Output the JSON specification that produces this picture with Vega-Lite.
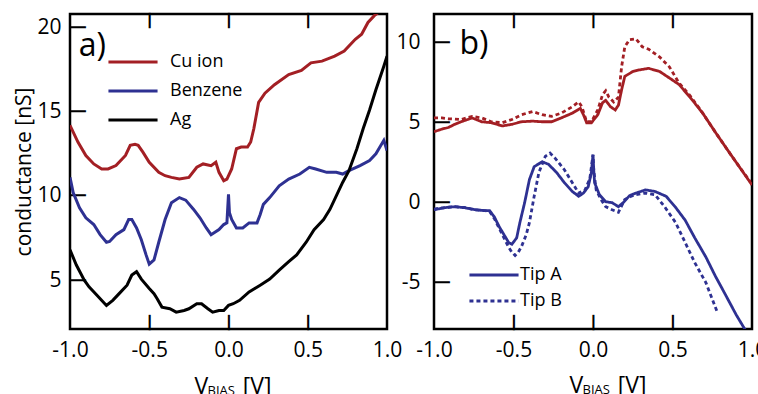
{
  "$schema": "https://vega.github.io/schema/vega-lite/v6.json",
  "padding": {"left": 12, "top": 12, "right": 8, "bottom": 67},
  "bounds": "flush",
  "spacing": 47,
  "config": {
    "font": "Open Sans",
    "view": {"stroke": "black", "strokeWidth": 2.5},
    "axis": {"grid": false, "domain": false, "ticks": false, "labelFlush": false, "labelOverlap": false, "labelFontSize": 21, "labelColor": "black", "titleColor": "black", "titleFontWeight": "normal"},
    "legend": {"labelColor": "black", "labelFontSize": 18, "padding": 0}
  },
  "resolve": {"scale": {"color": "independent", "strokeDash": "independent"}, "legend": {"color": "independent", "strokeDash": "independent"}},
  "hconcat": [
    {
      "width": 317,
      "height": 315,
      "data": {"values": [
        {"v": -1.0, "g": 14.19, "s": "Cu ion"}, {"v": -0.95, "g": 13.2, "s": "Cu ion"}, {"v": -0.9, "g": 12.4, "s": "Cu ion"}, {"v": -0.85, "g": 11.9, "s": "Cu ion"}, {"v": -0.8, "g": 11.6, "s": "Cu ion"}, {"v": -0.76, "g": 11.6, "s": "Cu ion"}, {"v": -0.71, "g": 11.8, "s": "Cu ion"}, {"v": -0.65, "g": 12.4, "s": "Cu ion"}, {"v": -0.62, "g": 13.0, "s": "Cu ion"}, {"v": -0.59, "g": 13.06, "s": "Cu ion"}, {"v": -0.57, "g": 13.0, "s": "Cu ion"}, {"v": -0.54, "g": 12.6, "s": "Cu ion"}, {"v": -0.5, "g": 12.0, "s": "Cu ion"}, {"v": -0.44, "g": 11.4, "s": "Cu ion"}, {"v": -0.4, "g": 11.2, "s": "Cu ion"}, {"v": -0.36, "g": 11.1, "s": "Cu ion"}, {"v": -0.31, "g": 11.0, "s": "Cu ion"}, {"v": -0.25, "g": 11.1, "s": "Cu ion"}, {"v": -0.2, "g": 11.7, "s": "Cu ion"}, {"v": -0.16, "g": 11.9, "s": "Cu ion"}, {"v": -0.11, "g": 11.8, "s": "Cu ion"}, {"v": -0.08, "g": 12.0, "s": "Cu ion"}, {"v": -0.06, "g": 11.4, "s": "Cu ion"}, {"v": -0.03, "g": 10.9, "s": "Cu ion"}, {"v": -0.01, "g": 11.0, "s": "Cu ion"}, {"v": 0.02, "g": 11.6, "s": "Cu ion"}, {"v": 0.05, "g": 12.8, "s": "Cu ion"}, {"v": 0.08, "g": 12.9, "s": "Cu ion"}, {"v": 0.12, "g": 12.9, "s": "Cu ion"}, {"v": 0.14, "g": 13.2, "s": "Cu ion"}, {"v": 0.16, "g": 14.0, "s": "Cu ion"}, {"v": 0.19, "g": 15.55, "s": "Cu ion"}, {"v": 0.23, "g": 16.1, "s": "Cu ion"}, {"v": 0.29, "g": 16.6, "s": "Cu ion"}, {"v": 0.38, "g": 17.2, "s": "Cu ion"}, {"v": 0.46, "g": 17.45, "s": "Cu ion"}, {"v": 0.52, "g": 17.9, "s": "Cu ion"}, {"v": 0.59, "g": 18.0, "s": "Cu ion"}, {"v": 0.67, "g": 18.3, "s": "Cu ion"}, {"v": 0.73, "g": 18.6, "s": "Cu ion"}, {"v": 0.8, "g": 19.3, "s": "Cu ion"}, {"v": 0.84, "g": 19.6, "s": "Cu ion"}, {"v": 0.88, "g": 20.3, "s": "Cu ion"}, {"v": 0.92, "g": 20.7, "s": "Cu ion"}, {"v": 1.0, "g": 21.3, "s": "Cu ion"},
        {"v": -1.0, "g": 11.1, "s": "Benzene"}, {"v": -0.98, "g": 10.2, "s": "Benzene"}, {"v": -0.94, "g": 9.3, "s": "Benzene"}, {"v": -0.9, "g": 8.7, "s": "Benzene"}, {"v": -0.85, "g": 8.3, "s": "Benzene"}, {"v": -0.81, "g": 7.7, "s": "Benzene"}, {"v": -0.77, "g": 7.25, "s": "Benzene"}, {"v": -0.75, "g": 7.3, "s": "Benzene"}, {"v": -0.71, "g": 7.7, "s": "Benzene"}, {"v": -0.66, "g": 8.0, "s": "Benzene"}, {"v": -0.63, "g": 8.6, "s": "Benzene"}, {"v": -0.61, "g": 8.6, "s": "Benzene"}, {"v": -0.58, "g": 8.1, "s": "Benzene"}, {"v": -0.55, "g": 7.4, "s": "Benzene"}, {"v": -0.52, "g": 6.5, "s": "Benzene"}, {"v": -0.5, "g": 5.95, "s": "Benzene"}, {"v": -0.47, "g": 6.2, "s": "Benzene"}, {"v": -0.44, "g": 7.25, "s": "Benzene"}, {"v": -0.4, "g": 8.6, "s": "Benzene"}, {"v": -0.36, "g": 9.6, "s": "Benzene"}, {"v": -0.31, "g": 9.9, "s": "Benzene"}, {"v": -0.27, "g": 9.75, "s": "Benzene"}, {"v": -0.22, "g": 9.2, "s": "Benzene"}, {"v": -0.18, "g": 8.7, "s": "Benzene"}, {"v": -0.14, "g": 8.1, "s": "Benzene"}, {"v": -0.11, "g": 7.7, "s": "Benzene"}, {"v": -0.06, "g": 8.0, "s": "Benzene"}, {"v": -0.03, "g": 8.3, "s": "Benzene"}, {"v": -0.01, "g": 8.4, "s": "Benzene"}, {"v": 0.0, "g": 10.1, "s": "Benzene"}, {"v": 0.006, "g": 9.0, "s": "Benzene"}, {"v": 0.02, "g": 8.6, "s": "Benzene"}, {"v": 0.05, "g": 8.1, "s": "Benzene"}, {"v": 0.09, "g": 8.1, "s": "Benzene"}, {"v": 0.13, "g": 8.4, "s": "Benzene"}, {"v": 0.18, "g": 8.4, "s": "Benzene"}, {"v": 0.2, "g": 8.9, "s": "Benzene"}, {"v": 0.22, "g": 9.5, "s": "Benzene"}, {"v": 0.26, "g": 9.9, "s": "Benzene"}, {"v": 0.32, "g": 10.6, "s": "Benzene"}, {"v": 0.38, "g": 11.0, "s": "Benzene"}, {"v": 0.45, "g": 11.3, "s": "Benzene"}, {"v": 0.51, "g": 11.7, "s": "Benzene"}, {"v": 0.55, "g": 11.6, "s": "Benzene"}, {"v": 0.62, "g": 11.4, "s": "Benzene"}, {"v": 0.68, "g": 11.4, "s": "Benzene"}, {"v": 0.72, "g": 11.3, "s": "Benzene"}, {"v": 0.76, "g": 11.5, "s": "Benzene"}, {"v": 0.83, "g": 11.8, "s": "Benzene"}, {"v": 0.89, "g": 12.1, "s": "Benzene"}, {"v": 0.93, "g": 12.5, "s": "Benzene"}, {"v": 0.98, "g": 13.3, "s": "Benzene"}, {"v": 1.0, "g": 12.7, "s": "Benzene"},
        {"v": -1.0, "g": 6.8, "s": "Ag"}, {"v": -0.96, "g": 5.9, "s": "Ag"}, {"v": -0.91, "g": 5.0, "s": "Ag"}, {"v": -0.88, "g": 4.6, "s": "Ag"}, {"v": -0.83, "g": 4.1, "s": "Ag"}, {"v": -0.77, "g": 3.5, "s": "Ag"}, {"v": -0.73, "g": 3.8, "s": "Ag"}, {"v": -0.69, "g": 4.2, "s": "Ag"}, {"v": -0.64, "g": 4.7, "s": "Ag"}, {"v": -0.61, "g": 5.3, "s": "Ag"}, {"v": -0.58, "g": 5.5, "s": "Ag"}, {"v": -0.55, "g": 5.06, "s": "Ag"}, {"v": -0.5, "g": 4.5, "s": "Ag"}, {"v": -0.47, "g": 4.2, "s": "Ag"}, {"v": -0.45, "g": 3.9, "s": "Ag"}, {"v": -0.42, "g": 3.4, "s": "Ag"}, {"v": -0.37, "g": 3.3, "s": "Ag"}, {"v": -0.33, "g": 3.1, "s": "Ag"}, {"v": -0.28, "g": 3.2, "s": "Ag"}, {"v": -0.25, "g": 3.3, "s": "Ag"}, {"v": -0.2, "g": 3.6, "s": "Ag"}, {"v": -0.17, "g": 3.6, "s": "Ag"}, {"v": -0.13, "g": 3.3, "s": "Ag"}, {"v": -0.1, "g": 3.1, "s": "Ag"}, {"v": -0.06, "g": 3.2, "s": "Ag"}, {"v": -0.03, "g": 3.2, "s": "Ag"}, {"v": 0.0, "g": 3.5, "s": "Ag"}, {"v": 0.03, "g": 3.6, "s": "Ag"}, {"v": 0.07, "g": 3.8, "s": "Ag"}, {"v": 0.13, "g": 4.3, "s": "Ag"}, {"v": 0.2, "g": 4.7, "s": "Ag"}, {"v": 0.26, "g": 5.06, "s": "Ag"}, {"v": 0.32, "g": 5.6, "s": "Ag"}, {"v": 0.38, "g": 6.1, "s": "Ag"}, {"v": 0.43, "g": 6.5, "s": "Ag"}, {"v": 0.49, "g": 7.25, "s": "Ag"}, {"v": 0.54, "g": 8.0, "s": "Ag"}, {"v": 0.6, "g": 8.6, "s": "Ag"}, {"v": 0.64, "g": 9.2, "s": "Ag"}, {"v": 0.68, "g": 10.0, "s": "Ag"}, {"v": 0.72, "g": 10.8, "s": "Ag"}, {"v": 0.76, "g": 11.5, "s": "Ag"}, {"v": 0.81, "g": 12.8, "s": "Ag"}, {"v": 0.85, "g": 14.0, "s": "Ag"}, {"v": 0.89, "g": 15.1, "s": "Ag"}, {"v": 0.93, "g": 16.3, "s": "Ag"}, {"v": 0.98, "g": 17.7, "s": "Ag"}, {"v": 1.0, "g": 18.3, "s": "Ag"}
      ]},
      "layer": [
        {
          "transform": [{"filter": "datum.s !== 'Ag'"}],
          "mark": {"type": "line", "strokeWidth": 3, "clip": true},
          "encoding": {
            "x": {"field": "v", "type": "quantitative", "scale": {"domain": [-1, 1], "nice": false, "zero": false},
                  "axis": {"orient": "bottom", "values": [-1, -0.5, 0, 0.5, 1], "labelPadding": 10, "labelExpr": "replace(format(datum.value, '.1f'), '\u2212', '-')", "title": "V\u2003\u2002[V]", "titleFontSize": 23, "titleAnchor": "start", "titleAlign": "left", "titleBaseline": "alphabetic", "titleX": 124, "titleY": 64}},
            "y": {"field": "g", "type": "quantitative", "scale": {"domain": [2.1, 20.8], "nice": false, "zero": false},
                  "axis": {"orient": "left", "values": [5, 10, 15, 20], "labelPadding": 9, "title": "conductance [nS]", "titleFontSize": 21, "titlePadding": 2}},
            "color": {"field": "s", "type": "nominal", "scale": {"domain": ["Cu ion", "Benzene", "Ag"], "range": ["#a31f24", "#2e3192", "#000000"]},
                      "legend": {"orient": "none", "legendX": 53, "legendY": 38, "title": null, "symbolType": "M-3,0H3", "symbolSize": 268, "symbolStrokeWidth": 3, "labelOffset": 27, "rowPadding": 10}}
          }
        },
        {
          "transform": [{"filter": "datum.s === 'Ag'"}],
          "mark": {"type": "line", "strokeWidth": 3, "clip": true},
          "encoding": {
            "x": {"field": "v", "type": "quantitative", "scale": {"domain": [-1, 1], "nice": false, "zero": false},
                  "axis": {"orient": "bottom", "values": [-0.5, 0, 0.5], "labelExpr": "'\u2503'", "labelFont": "DejaVu Sans", "labelFontSize": 13, "labelBaseline": "bottom", "labelAlign": "center", "labelPadding": 0, "title": "BIAS", "titleFontSize": 13, "titleAnchor": "start", "titleAlign": "left", "titleBaseline": "alphabetic", "titleX": 137, "titleY": 65}},
            "y": {"field": "g", "type": "quantitative",
                  "axis": {"orient": "left", "values": [5, 10, 15, 20], "labelExpr": "'\u2500'", "labelFont": "DejaVu Sans", "labelFontSize": 25, "labelAlign": "left", "labelBaseline": "middle", "labelPadding": 0, "title": null}},
            "color": {"field": "s", "type": "nominal",
                      "legend": {"orient": "none", "legendX": 53, "legendY": 38, "title": null, "symbolType": "M-3,0H3", "symbolSize": 268, "symbolStrokeWidth": 3, "labelOffset": 27, "rowPadding": 10}}
          }
        },
        {
          "data": {"values": [{"v": -0.945, "g": 18.3, "t": "a)"}]},
          "mark": {"type": "text", "fontSize": 32, "align": "left", "baseline": "alphabetic", "color": "black"},
          "encoding": {
            "x": {"field": "v", "type": "quantitative", "axis": {"orient": "top", "values": [-0.5, 0, 0.5], "labelExpr": "'\u2503'", "labelFont": "DejaVu Sans", "labelFontSize": 13, "labelBaseline": "top", "labelAlign": "center", "labelPadding": 0, "title": null}},
            "y": {"field": "g", "type": "quantitative", "axis": {"orient": "left", "labels": false, "title": null}},
            "text": {"field": "t"}
          }
        }
      ],
      "resolve": {"axis": {"x": "independent", "y": "independent"}}
    },
    {
      "width": 318,
      "height": 315,
      "data": {"values": [
        {"v": -1.0, "g": 4.44, "mol": "Cu", "tip": "Tip A"}, {"v": -0.95, "g": 4.6, "mol": "Cu", "tip": "Tip A"}, {"v": -0.91, "g": 4.7, "mol": "Cu", "tip": "Tip A"}, {"v": -0.87, "g": 4.9, "mol": "Cu", "tip": "Tip A"}, {"v": -0.83, "g": 5.06, "mol": "Cu", "tip": "Tip A"}, {"v": -0.76, "g": 5.3, "mol": "Cu", "tip": "Tip A"}, {"v": -0.7, "g": 5.06, "mol": "Cu", "tip": "Tip A"}, {"v": -0.64, "g": 5.0, "mol": "Cu", "tip": "Tip A"}, {"v": -0.57, "g": 4.8, "mol": "Cu", "tip": "Tip A"}, {"v": -0.51, "g": 4.9, "mol": "Cu", "tip": "Tip A"}, {"v": -0.45, "g": 5.06, "mol": "Cu", "tip": "Tip A"}, {"v": -0.38, "g": 5.1, "mol": "Cu", "tip": "Tip A"}, {"v": -0.32, "g": 5.06, "mol": "Cu", "tip": "Tip A"}, {"v": -0.26, "g": 5.06, "mol": "Cu", "tip": "Tip A"}, {"v": -0.2, "g": 5.3, "mol": "Cu", "tip": "Tip A"}, {"v": -0.13, "g": 5.6, "mol": "Cu", "tip": "Tip A"}, {"v": -0.08, "g": 5.9, "mol": "Cu", "tip": "Tip A"}, {"v": -0.06, "g": 5.5, "mol": "Cu", "tip": "Tip A"}, {"v": -0.04, "g": 5.0, "mol": "Cu", "tip": "Tip A"}, {"v": -0.01, "g": 5.0, "mol": "Cu", "tip": "Tip A"}, {"v": 0.03, "g": 5.5, "mol": "Cu", "tip": "Tip A"}, {"v": 0.06, "g": 6.25, "mol": "Cu", "tip": "Tip A"}, {"v": 0.08, "g": 6.4, "mol": "Cu", "tip": "Tip A"}, {"v": 0.11, "g": 6.0, "mol": "Cu", "tip": "Tip A"}, {"v": 0.14, "g": 5.8, "mol": "Cu", "tip": "Tip A"}, {"v": 0.16, "g": 6.1, "mol": "Cu", "tip": "Tip A"}, {"v": 0.18, "g": 7.06, "mol": "Cu", "tip": "Tip A"}, {"v": 0.2, "g": 7.9, "mol": "Cu", "tip": "Tip A"}, {"v": 0.25, "g": 8.2, "mol": "Cu", "tip": "Tip A"}, {"v": 0.29, "g": 8.3, "mol": "Cu", "tip": "Tip A"}, {"v": 0.35, "g": 8.4, "mol": "Cu", "tip": "Tip A"}, {"v": 0.42, "g": 8.2, "mol": "Cu", "tip": "Tip A"}, {"v": 0.48, "g": 7.8, "mol": "Cu", "tip": "Tip A"}, {"v": 0.54, "g": 7.4, "mol": "Cu", "tip": "Tip A"}, {"v": 0.61, "g": 6.6, "mol": "Cu", "tip": "Tip A"}, {"v": 0.69, "g": 5.6, "mol": "Cu", "tip": "Tip A"}, {"v": 0.77, "g": 4.4, "mol": "Cu", "tip": "Tip A"}, {"v": 0.86, "g": 3.1, "mol": "Cu", "tip": "Tip A"}, {"v": 0.92, "g": 2.25, "mol": "Cu", "tip": "Tip A"}, {"v": 0.99, "g": 1.25, "mol": "Cu", "tip": "Tip A"}, {"v": 1.0, "g": 1.1, "mol": "Cu", "tip": "Tip A"},
        {"v": -1.0, "g": 5.3, "mol": "Cu", "tip": "Tip B"}, {"v": -0.95, "g": 5.3, "mol": "Cu", "tip": "Tip B"}, {"v": -0.91, "g": 5.25, "mol": "Cu", "tip": "Tip B"}, {"v": -0.83, "g": 5.2, "mol": "Cu", "tip": "Tip B"}, {"v": -0.76, "g": 5.4, "mol": "Cu", "tip": "Tip B"}, {"v": -0.7, "g": 5.3, "mol": "Cu", "tip": "Tip B"}, {"v": -0.64, "g": 5.06, "mol": "Cu", "tip": "Tip B"}, {"v": -0.57, "g": 5.0, "mol": "Cu", "tip": "Tip B"}, {"v": -0.51, "g": 5.2, "mol": "Cu", "tip": "Tip B"}, {"v": -0.45, "g": 5.5, "mol": "Cu", "tip": "Tip B"}, {"v": -0.38, "g": 5.7, "mol": "Cu", "tip": "Tip B"}, {"v": -0.32, "g": 5.5, "mol": "Cu", "tip": "Tip B"}, {"v": -0.26, "g": 5.4, "mol": "Cu", "tip": "Tip B"}, {"v": -0.2, "g": 5.6, "mol": "Cu", "tip": "Tip B"}, {"v": -0.13, "g": 6.0, "mol": "Cu", "tip": "Tip B"}, {"v": -0.09, "g": 6.3, "mol": "Cu", "tip": "Tip B"}, {"v": -0.07, "g": 6.0, "mol": "Cu", "tip": "Tip B"}, {"v": -0.04, "g": 5.06, "mol": "Cu", "tip": "Tip B"}, {"v": -0.01, "g": 5.06, "mol": "Cu", "tip": "Tip B"}, {"v": 0.03, "g": 5.8, "mol": "Cu", "tip": "Tip B"}, {"v": 0.06, "g": 6.75, "mol": "Cu", "tip": "Tip B"}, {"v": 0.08, "g": 7.0, "mol": "Cu", "tip": "Tip B"}, {"v": 0.1, "g": 6.6, "mol": "Cu", "tip": "Tip B"}, {"v": 0.13, "g": 6.3, "mol": "Cu", "tip": "Tip B"}, {"v": 0.16, "g": 6.6, "mol": "Cu", "tip": "Tip B"}, {"v": 0.18, "g": 8.5, "mol": "Cu", "tip": "Tip B"}, {"v": 0.2, "g": 9.75, "mol": "Cu", "tip": "Tip B"}, {"v": 0.23, "g": 10.2, "mol": "Cu", "tip": "Tip B"}, {"v": 0.27, "g": 10.25, "mol": "Cu", "tip": "Tip B"}, {"v": 0.31, "g": 9.75, "mol": "Cu", "tip": "Tip B"}, {"v": 0.35, "g": 9.6, "mol": "Cu", "tip": "Tip B"}, {"v": 0.42, "g": 9.1, "mol": "Cu", "tip": "Tip B"}, {"v": 0.48, "g": 8.5, "mol": "Cu", "tip": "Tip B"}, {"v": 0.54, "g": 7.5, "mol": "Cu", "tip": "Tip B"}, {"v": 0.61, "g": 6.7, "mol": "Cu", "tip": "Tip B"}, {"v": 0.69, "g": 5.6, "mol": "Cu", "tip": "Tip B"}, {"v": 0.77, "g": 4.4, "mol": "Cu", "tip": "Tip B"}, {"v": 0.86, "g": 3.1, "mol": "Cu", "tip": "Tip B"}, {"v": 0.92, "g": 2.25, "mol": "Cu", "tip": "Tip B"}, {"v": 0.99, "g": 1.3, "mol": "Cu", "tip": "Tip B"},
        {"v": -1.0, "g": -0.44, "mol": "Benzene", "tip": "Tip A"}, {"v": -0.93, "g": -0.31, "mol": "Benzene", "tip": "Tip A"}, {"v": -0.87, "g": -0.25, "mol": "Benzene", "tip": "Tip A"}, {"v": -0.81, "g": -0.31, "mol": "Benzene", "tip": "Tip A"}, {"v": -0.74, "g": -0.44, "mol": "Benzene", "tip": "Tip A"}, {"v": -0.68, "g": -0.5, "mol": "Benzene", "tip": "Tip A"}, {"v": -0.65, "g": -0.5, "mol": "Benzene", "tip": "Tip A"}, {"v": -0.62, "g": -0.9, "mol": "Benzene", "tip": "Tip A"}, {"v": -0.59, "g": -1.5, "mol": "Benzene", "tip": "Tip A"}, {"v": -0.56, "g": -2.0, "mol": "Benzene", "tip": "Tip A"}, {"v": -0.53, "g": -2.5, "mol": "Benzene", "tip": "Tip A"}, {"v": -0.51, "g": -2.6, "mol": "Benzene", "tip": "Tip A"}, {"v": -0.48, "g": -2.2, "mol": "Benzene", "tip": "Tip A"}, {"v": -0.46, "g": -1.25, "mol": "Benzene", "tip": "Tip A"}, {"v": -0.43, "g": 0.0, "mol": "Benzene", "tip": "Tip A"}, {"v": -0.4, "g": 1.44, "mol": "Benzene", "tip": "Tip A"}, {"v": -0.37, "g": 2.25, "mol": "Benzene", "tip": "Tip A"}, {"v": -0.32, "g": 2.56, "mol": "Benzene", "tip": "Tip A"}, {"v": -0.28, "g": 2.4, "mol": "Benzene", "tip": "Tip A"}, {"v": -0.23, "g": 1.9, "mol": "Benzene", "tip": "Tip A"}, {"v": -0.18, "g": 1.25, "mol": "Benzene", "tip": "Tip A"}, {"v": -0.13, "g": 0.7, "mol": "Benzene", "tip": "Tip A"}, {"v": -0.09, "g": 0.4, "mol": "Benzene", "tip": "Tip A"}, {"v": -0.06, "g": 0.6, "mol": "Benzene", "tip": "Tip A"}, {"v": -0.03, "g": 1.0, "mol": "Benzene", "tip": "Tip A"}, {"v": -0.01, "g": 1.9, "mol": "Benzene", "tip": "Tip A"}, {"v": 0.0, "g": 3.0, "mol": "Benzene", "tip": "Tip A"}, {"v": 0.005, "g": 2.0, "mol": "Benzene", "tip": "Tip A"}, {"v": 0.01, "g": 1.25, "mol": "Benzene", "tip": "Tip A"}, {"v": 0.04, "g": 0.5, "mol": "Benzene", "tip": "Tip A"}, {"v": 0.08, "g": 0.06, "mol": "Benzene", "tip": "Tip A"}, {"v": 0.12, "g": 0.0, "mol": "Benzene", "tip": "Tip A"}, {"v": 0.16, "g": -0.25, "mol": "Benzene", "tip": "Tip A"}, {"v": 0.19, "g": 0.0, "mol": "Benzene", "tip": "Tip A"}, {"v": 0.23, "g": 0.44, "mol": "Benzene", "tip": "Tip A"}, {"v": 0.27, "g": 0.6, "mol": "Benzene", "tip": "Tip A"}, {"v": 0.33, "g": 0.8, "mol": "Benzene", "tip": "Tip A"}, {"v": 0.39, "g": 0.7, "mol": "Benzene", "tip": "Tip A"}, {"v": 0.46, "g": 0.4, "mol": "Benzene", "tip": "Tip A"}, {"v": 0.52, "g": -0.3, "mol": "Benzene", "tip": "Tip A"}, {"v": 0.58, "g": -1.1, "mol": "Benzene", "tip": "Tip A"}, {"v": 0.64, "g": -2.2, "mol": "Benzene", "tip": "Tip A"}, {"v": 0.71, "g": -3.4, "mol": "Benzene", "tip": "Tip A"}, {"v": 0.77, "g": -4.6, "mol": "Benzene", "tip": "Tip A"}, {"v": 0.83, "g": -5.7, "mol": "Benzene", "tip": "Tip A"}, {"v": 0.9, "g": -7.0, "mol": "Benzene", "tip": "Tip A"}, {"v": 0.96, "g": -8.0, "mol": "Benzene", "tip": "Tip A"}, {"v": 1.0, "g": -8.6, "mol": "Benzene", "tip": "Tip A"},
        {"v": -1.0, "g": -0.4, "mol": "Benzene", "tip": "Tip B"}, {"v": -0.93, "g": -0.3, "mol": "Benzene", "tip": "Tip B"}, {"v": -0.87, "g": -0.25, "mol": "Benzene", "tip": "Tip B"}, {"v": -0.81, "g": -0.3, "mol": "Benzene", "tip": "Tip B"}, {"v": -0.74, "g": -0.45, "mol": "Benzene", "tip": "Tip B"}, {"v": -0.68, "g": -0.5, "mol": "Benzene", "tip": "Tip B"}, {"v": -0.65, "g": -0.55, "mol": "Benzene", "tip": "Tip B"}, {"v": -0.62, "g": -1.0, "mol": "Benzene", "tip": "Tip B"}, {"v": -0.59, "g": -1.6, "mol": "Benzene", "tip": "Tip B"}, {"v": -0.56, "g": -2.2, "mol": "Benzene", "tip": "Tip B"}, {"v": -0.53, "g": -2.8, "mol": "Benzene", "tip": "Tip B"}, {"v": -0.51, "g": -3.1, "mol": "Benzene", "tip": "Tip B"}, {"v": -0.49, "g": -3.3, "mol": "Benzene", "tip": "Tip B"}, {"v": -0.47, "g": -3.1, "mol": "Benzene", "tip": "Tip B"}, {"v": -0.45, "g": -2.75, "mol": "Benzene", "tip": "Tip B"}, {"v": -0.42, "g": -2.0, "mol": "Benzene", "tip": "Tip B"}, {"v": -0.4, "g": -1.25, "mol": "Benzene", "tip": "Tip B"}, {"v": -0.37, "g": 0.4, "mol": "Benzene", "tip": "Tip B"}, {"v": -0.34, "g": 1.9, "mol": "Benzene", "tip": "Tip B"}, {"v": -0.3, "g": 2.9, "mol": "Benzene", "tip": "Tip B"}, {"v": -0.27, "g": 3.1, "mol": "Benzene", "tip": "Tip B"}, {"v": -0.24, "g": 2.8, "mol": "Benzene", "tip": "Tip B"}, {"v": -0.18, "g": 2.06, "mol": "Benzene", "tip": "Tip B"}, {"v": -0.13, "g": 1.25, "mol": "Benzene", "tip": "Tip B"}, {"v": -0.09, "g": 0.6, "mol": "Benzene", "tip": "Tip B"}, {"v": -0.05, "g": 0.8, "mol": "Benzene", "tip": "Tip B"}, {"v": -0.02, "g": 1.5, "mol": "Benzene", "tip": "Tip B"}, {"v": 0.0, "g": 3.0, "mol": "Benzene", "tip": "Tip B"}, {"v": 0.005, "g": 2.0, "mol": "Benzene", "tip": "Tip B"}, {"v": 0.02, "g": 0.8, "mol": "Benzene", "tip": "Tip B"}, {"v": 0.05, "g": 0.2, "mol": "Benzene", "tip": "Tip B"}, {"v": 0.08, "g": -0.25, "mol": "Benzene", "tip": "Tip B"}, {"v": 0.12, "g": -0.44, "mol": "Benzene", "tip": "Tip B"}, {"v": 0.16, "g": -0.6, "mol": "Benzene", "tip": "Tip B"}, {"v": 0.2, "g": 0.2, "mol": "Benzene", "tip": "Tip B"}, {"v": 0.24, "g": 0.4, "mol": "Benzene", "tip": "Tip B"}, {"v": 0.27, "g": 0.5, "mol": "Benzene", "tip": "Tip B"}, {"v": 0.33, "g": 0.6, "mol": "Benzene", "tip": "Tip B"}, {"v": 0.39, "g": 0.5, "mol": "Benzene", "tip": "Tip B"}, {"v": 0.45, "g": -0.25, "mol": "Benzene", "tip": "Tip B"}, {"v": 0.52, "g": -1.25, "mol": "Benzene", "tip": "Tip B"}, {"v": 0.58, "g": -2.5, "mol": "Benzene", "tip": "Tip B"}, {"v": 0.64, "g": -3.75, "mol": "Benzene", "tip": "Tip B"}, {"v": 0.71, "g": -5.0, "mol": "Benzene", "tip": "Tip B"}, {"v": 0.78, "g": -6.8, "mol": "Benzene", "tip": "Tip B"}
      ]},
      "layer": [
        {
          "transform": [{"filter": "datum.mol === 'Cu'"}],
          "mark": {"type": "line", "strokeWidth": 2.8, "clip": true},
          "encoding": {
            "x": {"field": "v", "type": "quantitative", "scale": {"domain": [-1, 1], "nice": false, "zero": false},
                  "axis": {"orient": "bottom", "values": [-1, -0.5, 0, 0.5, 1], "labelPadding": 10, "labelExpr": "replace(format(datum.value, '.1f'), '\u2212', '-')", "title": "V\u2003\u2002[V]", "titleFontSize": 23, "titleAnchor": "start", "titleAlign": "left", "titleBaseline": "alphabetic", "titleX": 135, "titleY": 63}},
            "y": {"field": "g", "type": "quantitative", "scale": {"domain": [-7.9, 11.8], "nice": false, "zero": false},
                  "axis": {"orient": "left", "values": [-5, 0, 5, 10], "title": null, "labelPadding": 14, "labelExpr": "replace(format(datum.value, 'd'), '\u2212', '-')"}},
            "color": {"field": "mol", "type": "nominal", "scale": {"domain": ["Cu", "Benzene"], "range": ["#a31f24", "#2e3192"]}, "legend": null},
            "strokeDash": {"field": "tip", "type": "nominal", "scale": {"domain": ["Tip A", "Tip B"], "range": [[1, 0], [4, 3]]},
                           "legend": {"orient": "none", "legendX": 50, "legendY": 251, "title": null, "symbolType": "M-3,0H3", "symbolSize": 268, "symbolStrokeWidth": 3, "symbolStrokeColor": "#2e3192", "labelOffset": 16, "rowPadding": 7}}
          }
        },
        {
          "transform": [{"filter": "datum.mol === 'Benzene'"}],
          "mark": {"type": "line", "strokeWidth": 2.8, "clip": true},
          "encoding": {
            "x": {"field": "v", "type": "quantitative", "scale": {"domain": [-1, 1], "nice": false, "zero": false},
                  "axis": {"orient": "bottom", "values": [-0.5, 0, 0.5], "labelExpr": "'\u2503'", "labelFont": "DejaVu Sans", "labelFontSize": 13, "labelBaseline": "bottom", "labelAlign": "center", "labelPadding": 0, "title": "BIAS", "titleFontSize": 13, "titleAnchor": "start", "titleAlign": "left", "titleBaseline": "alphabetic", "titleX": 148, "titleY": 64}},
            "y": {"field": "g", "type": "quantitative",
                  "axis": {"orient": "left", "values": [-5, 0, 5, 10], "labelExpr": "'\u2500'", "labelFont": "DejaVu Sans", "labelFontSize": 25, "labelAlign": "left", "labelBaseline": "middle", "labelPadding": 0, "title": null}},
            "color": {"field": "mol", "type": "nominal", "legend": null},
            "strokeDash": {"field": "tip", "type": "nominal",
                           "legend": {"orient": "none", "legendX": 50, "legendY": 251, "title": null, "symbolType": "M-3,0H3", "symbolSize": 268, "symbolStrokeWidth": 3, "symbolStrokeColor": "#2e3192", "labelOffset": 16, "rowPadding": 7}}
          }
        },
        {
          "data": {"values": [{"v": -0.84, "g": 9.3, "t": "b)"}]},
          "mark": {"type": "text", "fontSize": 32, "align": "left", "baseline": "alphabetic", "color": "black"},
          "encoding": {
            "x": {"field": "v", "type": "quantitative", "axis": {"orient": "top", "values": [-0.5, 0, 0.5], "labelExpr": "'\u2503'", "labelFont": "DejaVu Sans", "labelFontSize": 13, "labelBaseline": "top", "labelAlign": "center", "labelPadding": 0, "title": null}},
            "y": {"field": "g", "type": "quantitative", "axis": {"orient": "left", "labels": false, "title": null}},
            "text": {"field": "t"}
          }
        }
      ],
      "resolve": {"axis": {"x": "independent", "y": "independent"}}
    }
  ]
}
